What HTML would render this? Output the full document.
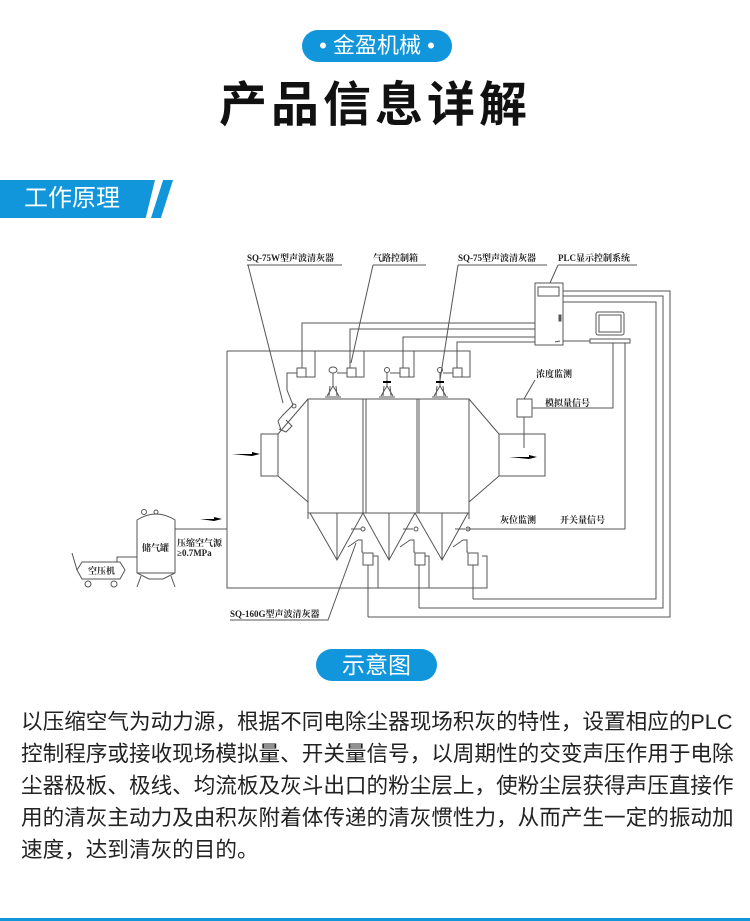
<!DOCTYPE html>
<html><head><meta charset="utf-8"><style>
body{margin:0;width:750px;height:921px;background:#fff;position:relative;overflow:hidden;font-family:"Liberation Sans","Noto Sans CJK SC",sans-serif}
.pill{position:absolute;background:#1296db;color:#fff;border-radius:16px;text-align:center}
#p1{left:302px;top:30px;width:150px;height:32px;line-height:32px;font-size:22px}
#title{position:absolute;left:0;width:750px;top:78px;text-align:center;font-size:48px;font-weight:bold;letter-spacing:4px;color:#111;line-height:56px}
#sec{position:absolute;left:0;top:180px;width:155px;height:38px;background:#1296db;clip-path:polygon(0 0,100% 0,94% 100%,0 100%);color:#fff;font-size:24px;line-height:38px}
#sec span{margin-left:24px}
#stripe{position:absolute;left:151px;top:180px;width:22px;height:38px;background:#1296db;clip-path:polygon(55% 0,100% 0,45% 100%,0 100%)}
#p2{left:316px;top:649px;width:121px;height:32px;line-height:32px;font-size:23px;border-radius:16px}
#txt{position:absolute;left:21px;top:706px;width:720px;font-size:21.6px;line-height:32px;color:#222;white-space:nowrap}
#bl{position:absolute;left:0;top:918px;width:750px;height:3px;background:#1296db}
svg{position:absolute;left:0;top:0}
svg text{font-family:"Liberation Serif","Noto Serif CJK SC",serif;font-weight:bold;font-size:9px;fill:#222}
</style></head><body>
<div class="pill" id="p1">• 金盈机械 •</div>
<div id="title">产品信息详解</div>
<div id="sec"><span>工作原理</span></div>
<div id="stripe"></div>
<svg width="750" height="921" viewBox="0 0 750 921">
<g fill="none" stroke="#555" stroke-width="1">
<!-- labels underlines and leaders -->
<path d="M247 265H342M373 265H426M458 265H547M558 265H637"/>
<path d="M248 265L283 403M373 265L351 363M458 265L440 380M558 265L550 283"/>
<!-- PLC -->
<rect x="535" y="283" width="28" height="62"/>
<rect x="538" y="287" width="21" height="9"/>
<rect x="559" y="315" width="2" height="6" fill="#555"/>
<rect x="596" y="312" width="28" height="23" rx="2"/>
<rect x="599" y="315" width="22" height="17"/>
<rect x="590" y="339" width="40" height="4"/>
<path d="M563 341H590M560 341l-5 1"/>
<path d="M563 291H670V617H368M563 296H663V608H419M563 302H656V599H473"/>
<path d="M613 343V408H532M625 343V529H467"/>
<!-- PLC to boxes -->
<path d="M535 323H302V368M535 329H350V368M535 337H403V368M535 342H457V368"/>
<!-- frame -->
<path d="M227 351H470V377H461M315 351V377H306M414 351V377H409M467 351"/>
<path d="M364 351V377H356"/>
<path d="M227 351V588H487V556H482"/>
<path d="M378 588V556H373M429 588V556H425"/>
<!-- boxes -->
<rect x="297" y="368" width="9" height="9"/><rect x="347" y="368" width="9" height="9"/><rect x="400" y="368" width="9" height="9"/><rect x="453" y="368" width="9" height="9"/>
<path d="M297 373H287V390L293 405M347 373H337M400 373H390M453 373H443"/>
<!-- horns -->
<g>
<ellipse cx="333" cy="370" rx="4" ry="3"/><path d="M333 373V386M333 386L327 396M333 386L339 396M330 386L329 396M336 386L337 396M325 397H341"/>
<ellipse cx="387" cy="370" rx="2.5" ry="2.5"/><path d="M387 373V386M387 386L381 396M387 386L393 396M384 386L383 396M390 386L391 396M379 397H395"/>
<ellipse cx="440" cy="370" rx="2.5" ry="2.5"/><path d="M440 373V386M440 386L434 396M440 386L446 396M437 386L436 396M443 386L444 396M432 397H448"/>
</g>
<path d="M383 382h8M436 382h8" stroke="#000" stroke-width="2"/>
<!-- 75W device -->
<path d="M293 405L282 416M282 416l-4 5 3 9M286 420l6 6-6 6-7-3"/>
<circle cx="294" cy="406" r="2"/>
<!-- body -->
<path d="M308 399H469V513H308ZM363 399V513M366 399V513M417 399V513M419 399V513"/>
<rect x="261" y="434" width="17" height="42"/><rect x="499" y="434" width="46" height="42"/>
<path d="M278 434L308 399M278 476L308 502M469 399L499 434M469 502L499 476"/>
<path d="M308 513v6M469 513v6"/>
<!-- concentration -->
<rect x="517" y="399" width="15" height="18"/>
<path d="M524 417V448M524 399L535 380"/>
<!-- hoppers -->
<path d="M310 513L337 560L363 513L389 560L415 513L442 560L468 513M337 513V560M389 513V560M442 513V560"/>
<path d="M351 529h10M403 529h10M455 529h10"/>
<circle cx="363" cy="529" r="2"/><circle cx="416" cy="529" r="2"/><circle cx="468" cy="529" r="2"/>
<path d="M348 547L358 540M400 547L410 540M453 547L463 540"/>
<path d="M358 540h4v12h1M410 540h4v12h1M463 540h4v12h1"/>
<rect x="363" y="553" width="10" height="12"/><rect x="415" y="553" width="10" height="12"/><rect x="468" y="553" width="10" height="12"/>
<path d="M368 565V617M419 565V608M473 565V599"/>
<!-- 160G leader -->
<path d="M230 620H328L356 543"/>
<!-- air supply -->
<path d="M175 529H227"/>
<path d="M137 520Q156 508 175 520V573L163 579H149L137 573Z"/>
<path d="M137 573H175M141 576L137 587M171 576L175 587"/>
<circle cx="144" cy="512" r="2.5"/><circle cx="156" cy="512" r="2"/>
<path d="M82 562H120L125 570L120 579H82L77 570ZM77 570L72 553"/>
<circle cx="88" cy="584" r="3"/><circle cx="114" cy="584" r="3"/>
<path d="M117 562V557H137"/>
</g>
<g fill="#000">
<path d="M232 454H252V452L260 454L252 456Z"/>
<path d="M509 457H529V455L537 457L529 459Z"/>
<path d="M200 519H214V517L222 519L214 521Z"/>
</g>
<text x="247" y="261">SQ-75W型声波清灰器</text>
<text x="373" y="261">气路控制箱</text>
<text x="458" y="261">SQ-75型声波清灰器</text>
<text x="558" y="261">PLC显示控制系统</text>
<text x="536" y="377">浓度监测</text>
<text x="545" y="406">模拟量信号</text>
<text x="500" y="523">灰位监测</text>
<text x="560" y="523">开关量信号</text>
<text x="230" y="617">SQ-160G型声波清灰器</text>
<text x="142" y="551" font-size="10">储气罐</text>
<text x="177" y="546">压缩空气源</text>
<text x="177" y="556">≥0.7MPa</text>
<text x="88" y="574" font-size="10">空压机</text>
</svg>
<div class="pill" id="p2">示意图</div>
<div id="txt">以压缩空气为动力源，根据不同电除尘器现场积灰的特性，设置相应的PLC<br>控制程序或接收现场模拟量、开关量信号，以周期性的交变声压作用于电除<br>尘器极板、极线、均流板及灰斗出口的粉尘层上，使粉尘层获得声压直接作<br>用的清灰主动力及由积灰附着体传递的清灰惯性力，从而产生一定的振动加<br>速度，达到清灰的目的。</div>
<div id="bl"></div>
</body></html>
